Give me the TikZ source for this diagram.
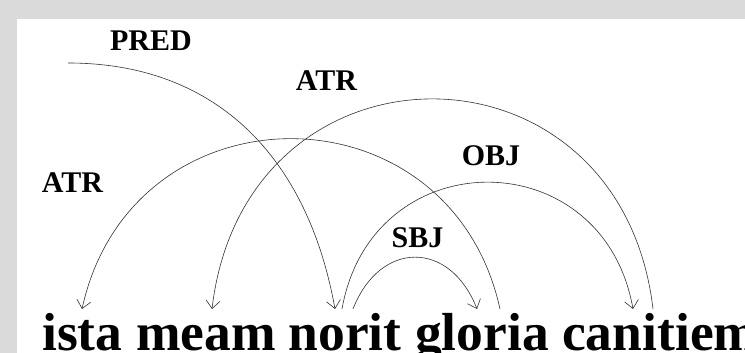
\documentclass[tikz,border=0pt]{standalone}
\usepackage{fontspec}
\setmainfont{Liberation Serif}
\usetikzlibrary{arrows.meta,calc}
\definecolor{marble}{RGB}{218,218,218}
\tikzset{
  word/.style={anchor=base west,inner sep=0pt,font=\fontsize{53.5}{60}\selectfont\bfseries},
  deplabel/.style={anchor=base,inner sep=0pt,font=\fontsize{30}{36}\selectfont\bfseries},
  dep/.style={draw=black!80,line width=0.6pt},
  deparrow/.style={dep,-{Straight Barb[length=8pt,width=14pt,line width=0.6pt]}}
}
\begin{document}
\begin{tikzpicture}[x=1pt,y=1pt]
\useasboundingbox (0,0) rectangle (745,353);
\fill[marble] (0,0) rectangle (745,353);
\fill[white] (17,0) rectangle (745,334);
% words
\node[word] (ista) at (42,2) {ista};
\node[word] (meam) at (136,2) {meam};
\node[word] (norit) at (288.5,2) {norit};
\node[word] (gloria) at (415,2) {gloria};
\node[word] (canitiem) at (562,2) {canitiem};
% labels
\node[deplabel] (lpred) at (151,302) {PRED};
\node[deplabel] (latrtop) at (326.5,262) {ATR};
\node[deplabel] (latrleft) at (72.5,160) {ATR};
\node[deplabel] (lobj) at (491,187) {OBJ};
\node[deplabel] (lsbj) at (417.5,105) {SBJ};
% attachment points
\coordinate (root) at (68,290);
\coordinate (istaIn) at (82,44);
\coordinate (meamIn) at (212,44);
\coordinate (noritIn) at (335,44);
\coordinate (noritOutA) at (342,44);
\coordinate (noritOutB) at (353,44);
\coordinate (gloriaIn) at (477,44);
\coordinate (gloriaOut) at (500,44);
\coordinate (canitiemIn) at (633,44);
\coordinate (canitiemOut) at (653,44);
% connectors
\draw[deparrow] (root) .. controls ($(root)+(150,0)$) and ($(noritIn)+(-27,150)$) .. (noritIn);
\draw[deparrow] (canitiemOut) .. controls ($(canitiemOut)+(-33,280)$) and ($(meamIn)+(33,280)$) .. (meamIn);
\draw[deparrow] (gloriaOut) .. controls ($(gloriaOut)+(-50,227)$) and ($(istaIn)+(50,227)$) .. (istaIn);
\draw[deparrow] (noritOutA) .. controls ($(noritOutA)+(30,169)$) and ($(canitiemIn)+(-30,169)$) .. (canitiemIn);
\draw[deparrow] (noritOutB) .. controls ($(noritOutB)+(27,69)$) and ($(gloriaIn)+(-27,69)$) .. (gloriaIn);
\end{tikzpicture}
\end{document}
